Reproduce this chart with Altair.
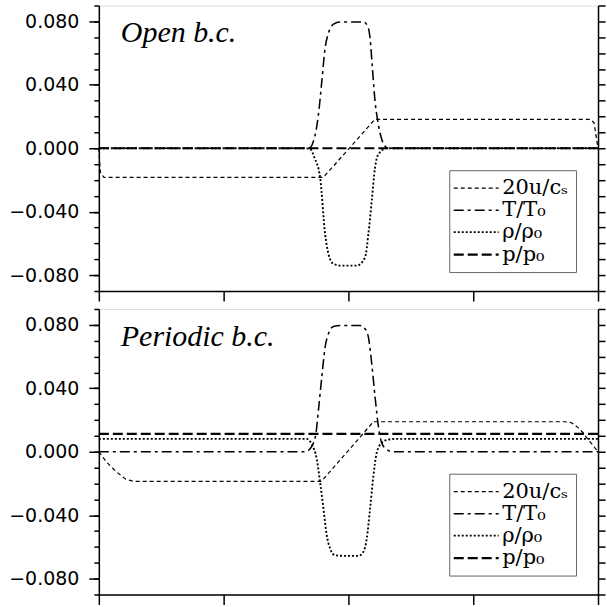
import altair as alt
import pandas as pd

series_names = ["20u/cₛ", "T/T₀", "ρ/ρ₀", "p/p₀"]
panel_titles = ["Open b.c.", "Periodic b.c."]

# ---- Open b.c. (top panel) ----
u_open_x = [0, 0.003, 0.01, 0.45, 0.553, 0.985, 0.992, 0.996, 1.0]
u_open_y = [0, -0.015, -0.0183, -0.0183, 0.0182, 0.0182, 0.016, 0.008, 0]

T_open_x = [0, 0.41, 0.4233, 0.43, 0.435, 0.44, 0.4467, 0.4533, 0.46, 0.465, 0.47, 0.4833,
            0.53, 0.5387, 0.5433, 0.548, 0.5533, 0.5587, 0.5667, 0.572, 0.58, 1.0]
T_open_y = [0, 0, 0.0005, 0.0046, 0.011, 0.0214, 0.0423, 0.0632, 0.0727, 0.0765, 0.0783, 0.0796,
            0.0796, 0.0769, 0.0695, 0.0507, 0.0297, 0.0172, 0.0057, 0.0018, 0, 0]

rho_open_x = [0, 0.41, 0.4233, 0.432, 0.4433, 0.4533, 0.46, 0.47, 0.4867, 0.5167, 0.5333,
              0.54, 0.5467, 0.5533, 0.56, 0.5767, 1.0]
rho_open_y = [0, 0, -0.0005, -0.006, -0.0185, -0.054, -0.0666, -0.0729, -0.074, -0.074, -0.0688,
              -0.054, -0.0331, -0.0122, -0.0038, 0, 0]

p_open_x = [0, 1.0]
p_open_y = [0, 0]

# ---- Periodic b.c. (bottom panel) ----
u_per_x = [0, 0.016, 0.036, 0.054, 0.07, 0.446, 0.55, 0.934, 0.947, 0.96, 0.97, 0.98, 0.99, 1.0]
u_per_y = [0, -0.0067, -0.0129, -0.0173, -0.0187, -0.0187, 0.0189, 0.0189, 0.0183, 0.0152,
           0.012, 0.0077, 0.004, 0]

T_per_x = [0, 0.41, 0.4167, 0.4267, 0.4347, 0.44, 0.4467, 0.4533, 0.46, 0.47, 0.4833, 0.5233,
           0.5333, 0.54, 0.5467, 0.5533, 0.56, 0.5667, 0.5767, 0.59, 1.0]
T_per_y = [0, 0, 0.0003, 0.0035, 0.0112, 0.0264, 0.0473, 0.066, 0.0744, 0.079, 0.0796, 0.0796,
           0.0775, 0.0723, 0.0556, 0.0348, 0.016, 0.0056, 0.0014, 0, 0]

rho_per_x = [0, 0.41, 0.4167, 0.4267, 0.4367, 0.4433, 0.45, 0.4567, 0.4633, 0.4733, 0.4933, 0.52,
             0.53, 0.5367, 0.5433, 0.55, 0.5567, 0.5667, 0.58, 0.5933, 1.0]
rho_per_y = [0.0081, 0.0081, 0.0081, 0.0046, -0.0048, -0.0194, -0.036, -0.0528, -0.061, -0.0653,
             -0.0656, -0.0656, -0.0631, -0.0548, -0.036, -0.0153, -0.0006, 0.0056, 0.0077, 0.0081,
             0.0081]

p_per_x = [0, 1.0]
p_per_y = [0.0113, 0.0113]

y_major = [-0.08, -0.04, 0, 0.04, 0.08]
y_minor = [-0.09, -0.08, -0.07, -0.06, -0.05, -0.04, -0.03, -0.02, -0.01, 0,
           0.01, 0.02, 0.03, 0.04, 0.05, 0.06, 0.07, 0.08, 0.09]
x_ticks = [0, 0.25, 0.5, 0.75, 1.0]


def make_df(parts):
    rows = []
    for name, xs, ys in parts:
        for i, (xv, yv) in enumerate(zip(xs, ys)):
            rows.append({"series": name, "x": xv, "y": yv, "order": i})
    return pd.DataFrame(rows)


df_open = make_df([(series_names[0], u_open_x, u_open_y), (series_names[1], T_open_x, T_open_y),
                   (series_names[2], rho_open_x, rho_open_y), (series_names[3], p_open_x, p_open_y)])
df_per = make_df([(series_names[0], u_per_x, u_per_y), (series_names[1], T_per_x, T_per_y),
                  (series_names[2], rho_per_x, rho_per_y), (series_names[3], p_per_x, p_per_y)])

dash_range = [[4, 3], [10, 4, 3, 4], [2, 2], [10, 4]]
width_range = [1.2, 2.2, 1.0, 2.6]

W, H = 500, 286
yscale = alt.Scale(domain=[-0.09, 0.09], nice=False, zero=False)
xscale = alt.Scale(domain=[0, 1], nice=False, zero=False)

legend = alt.Legend(title=None, orient="none", legendX=351, legendY=165,
                    fillColor="white", strokeColor="#666", padding=7,
                    symbolType="M-1.4,0H3.1", symbolSize=400, symbolStrokeColor="black",
                    labelFont="DejaVu Serif", labelFontSize=21, labelColor="black",
                    rowPadding=1, labelOffset=23, labelLimit=300, direction="vertical")

axis_common = dict(grid=False, title=None, tickColor="black", tickWidth=1.5,
                   domainColor="black", domainWidth=1.5)
ax_main = alt.Axis(values=y_major, format=".3f", tickSize=10, labelFont="DejaVu Sans",
                   labelFontSize=19, labelColor="black", labelPadding=10, orient="left",
                   **axis_common)
ax_minor = alt.Axis(values=y_minor, labels=False, tickSize=5, domain=False, orient="left",
                    grid=False, title=None, tickColor="black", tickWidth=1.5)
ax_right = alt.Axis(values=y_minor, labels=False, tickSize=7, orient="right", **axis_common)
ax_x = alt.Axis(values=x_ticks, labels=False, tickSize=10, orient="bottom", **axis_common)


def panel(df, title):
    base = alt.Chart(df)
    sd = alt.StrokeDash("series:N", scale=alt.Scale(domain=series_names, range=dash_range),
                        legend=legend)
    sw = alt.StrokeWidth("series:N", scale=alt.Scale(domain=series_names, range=width_range),
                         legend=legend)
    u_layer = base.transform_filter(alt.datum.series == series_names[0]).mark_line(
        color="black", interpolate="linear").encode(
        x=alt.X("x:Q", scale=xscale, axis=ax_x),
        y=alt.Y("y:Q", scale=yscale, axis=ax_main),
        strokeDash=sd, strokeWidth=sw, order="order:Q")
    tr_layer = base.transform_filter(
        (alt.datum.series == series_names[1]) | (alt.datum.series == series_names[2])).mark_line(
        color="black", interpolate="monotone").encode(
        x=alt.X("x:Q", scale=xscale, axis=None),
        y=alt.Y("y:Q", scale=yscale, axis=ax_minor),
        strokeDash=sd, strokeWidth=sw, detail="series:N", order="order:Q")
    p_layer = base.transform_filter(alt.datum.series == series_names[3]).mark_line(
        color="black", interpolate="linear").encode(
        x=alt.X("x:Q", scale=xscale, axis=None),
        y=alt.Y("y:Q", scale=yscale, axis=ax_right),
        strokeDash=sd, strokeWidth=sw, order="order:Q")
    label = alt.Chart(pd.DataFrame({"t": [title]})).mark_text(
        font="Liberation Serif", fontStyle="italic", fontSize=30, align="left",
        baseline="alphabetic", color="black").encode(
        text="t:N", x=alt.value(22), y=alt.value(37))
    return alt.layer(u_layer, tr_layer, p_layer, label).resolve_scale(
        x="shared", y="shared").resolve_axis(x="independent", y="independent").properties(
        width=W, height=H)


chart = alt.vconcat(panel(df_open, panel_titles[0]), panel(df_per, panel_titles[1]),
                    spacing=4).resolve_scale(
    strokeDash="independent", strokeWidth="independent").resolve_legend(
    strokeDash="independent", strokeWidth="independent").properties(
    padding={"left": 8, "top": 3, "right": 0, "bottom": 0}).configure_view(
    stroke="#555", strokeWidth=1.5).configure(background="white")

chart.save("out.html", embed_options={"renderer": "svg", "actions": False})
